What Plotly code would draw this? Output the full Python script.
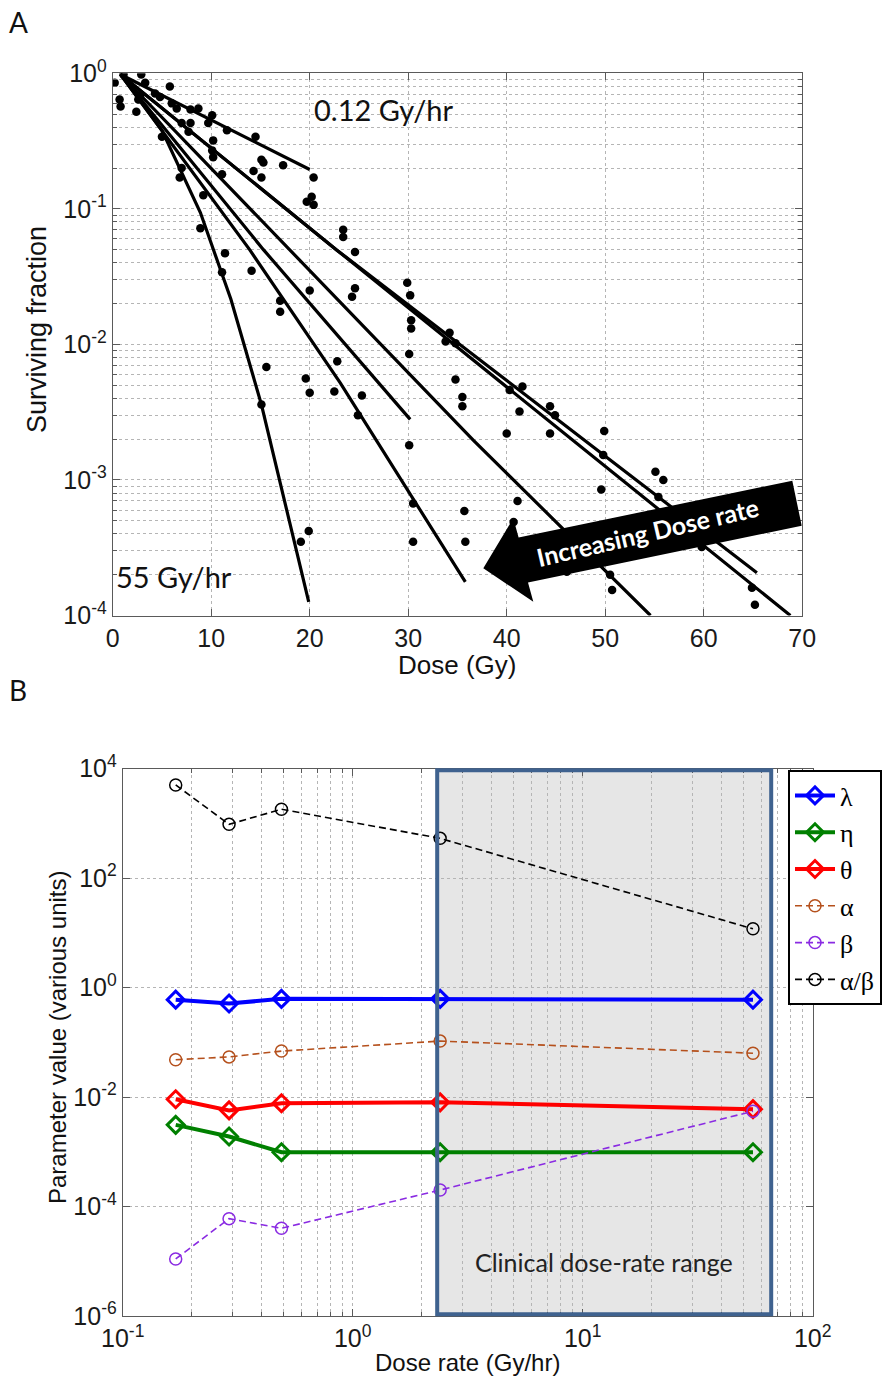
import plotly.graph_objects as go

# ---------------- Panel A data ----------------
# scattered survival measurements (dose in Gy, surviving fraction)
survival_points = [
    (1.1, 0.98), (0.2, 0.85), (2.9, 0.98), (3.3, 0.85), (5.8, 0.80),
    (0.7, 0.64), (0.8, 0.57), (2.4, 0.52), (2.8, 0.69), (2.6, 0.64),
    (4.3, 0.71), (4.8, 0.67), (6.5, 0.55), (6.0, 0.60), (5.0, 0.34),
    (7.9, 0.54), (8.7, 0.55), (9.7, 0.43), (10.1, 0.49), (7.0, 0.43),
    (7.9, 0.43), (7.7, 0.37), (11.6, 0.38), (14.5, 0.34), (10.2, 0.32),
    (10.1, 0.27), (10.2, 0.24), (7.0, 0.20), (6.8, 0.17), (11.1, 0.18),
    (14.3, 0.19), (15.1, 0.23), (15.3, 0.22), (15.1, 0.17), (17.3, 0.21),
    (20.4, 0.17), (9.2, 0.126), (20.2, 0.123), (19.7, 0.113), (20.4, 0.107),
    (8.9, 0.072), (11.4, 0.047), (23.4, 0.070), (23.4, 0.062), (11.1, 0.034),
    (14.1, 0.035), (20.0, 0.025), (17.0, 0.021), (17.0, 0.0174), (15.6, 0.0068),
    (22.8, 0.0075), (19.6, 0.0056), (20.0, 0.0044), (22.5, 0.0045), (15.1, 0.0036),
    (19.9, 4.2e-4), (19.1, 3.5e-4), (24.6, 0.048), (24.6, 0.026), (24.3, 0.0225),
    (29.9, 0.0285), (30.2, 0.023), (30.3, 0.0151), (30.3, 0.0131), (30.1, 0.0085),
    (34.2, 0.0122), (33.8, 0.0105), (34.8, 0.0102), (25.3, 0.0042), (24.9, 0.0030),
    (34.8, 0.0055), (35.5, 0.0041), (35.5, 0.0035), (30.1, 0.0018), (40.3, 0.0046),
    (41.6, 0.0049), (41.3, 0.0032), (40.0, 0.0022), (44.4, 0.0035), (44.9, 0.0030),
    (44.4, 0.0022), (49.9, 0.0023), (30.5, 6.7e-4), (30.5, 3.5e-4), (35.7, 5.9e-4),
    (35.8, 3.5e-4), (41.1, 7.0e-4), (40.7, 4.9e-4), (49.6, 8.5e-4), (50.7, 1.54e-4),
    (50.5, 2.0e-4), (49.8, 1.53e-3), (55.1, 1.15e-3), (55.9, 1.0e-3), (55.4, 7.5e-4),
    (59.8, 3.2e-4), (64.9, 1.6e-4), (65.2, 1.2e-4), (46.1, 2.1e-4),
]
point_dose = [p[0] for p in survival_points]
point_sf = [p[1] for p in survival_points]

# fitted survival curves, one per dose rate
fit_dose = [
    [0.8, 20.0],
    [0.8, 22.7, 65.4],
    [0.8, 22.7, 68.8],
    [0.8, 18.0, 36.6, 54.6],
    [0.8, 15.3, 30.2],
    [0.8, 13.9, 23.1, 35.8],
    [0.8, 5.0, 8.9, 12.0, 15.1, 19.9],
]
fit_sf = [
    [0.98, 0.195],
    [0.98, 0.05, 2.07e-4],
    [0.98, 0.05, 1.0e-4],
    [0.98, 0.05, 1.97e-3, 1.0e-4],
    [0.98, 0.05, 2.8e-3],
    [0.98, 0.05, 5.2e-3, 1.77e-4],
    [0.98, 0.38, 0.094, 0.0215, 3.6e-3, 1.26e-4],
]
dose_ticks = [0, 10, 20, 30, 40, 50, 60, 70]
sf_ticks = [1e-4, 1e-3, 1e-2, 1e-1, 1]
sf_ticktext = ["10<sup>-4</sup>", "10<sup>-3</sup>", "10<sup>-2</sup>", "10<sup>-1</sup>", "10<sup>0</sup>"]

# ---------------- Panel B data ----------------
dose_rate = [0.17, 0.29, 0.49, 2.4, 55]
lam = [0.60, 0.51, 0.62, 0.62, 0.60]
eta = [0.0031, 0.0019, 0.00098, 0.00098, 0.00098]
theta = [0.0091, 0.0057, 0.0077, 0.0080, 0.0060]
alpha = [0.048, 0.054, 0.069, 0.105, 0.063]
beta = [1.1e-5, 6.0e-5, 4.0e-5, 2.0e-4, 5.5e-3]
alpha_beta = [5000, 955, 1800, 530, 11.8]
clinical_range = [2.33, 66]
rate_ticks = [0.1, 1, 10, 100]
rate_ticktext = ["10<sup>-1</sup>", "10<sup>0</sup>", "10<sup>1</sup>", "10<sup>2</sup>"]
param_ticks = [1e-6, 1e-4, 1e-2, 1, 1e2, 1e4]
param_ticktext = ["10<sup>-6</sup>", "10<sup>-4</sup>", "10<sup>-2</sup>", "10<sup>0</sup>",
                  "10<sup>2</sup>", "10<sup>4</sup>"]

# ---------------- layout helpers ----------------
W, H = 892, 1389
def px(x):
    return x / W
def py(y):
    return 1 - y / H

AXFONT = "Liberation Sans, Arial, sans-serif"
CAL = "Lato, Open Sans, sans-serif"
GRID = "#b5b5b5"
LINE = "#5a5a5a"

fig = go.Figure()

for d, s in zip(fit_dose, fit_sf):
    fig.add_trace(go.Scatter(x=d, y=s, mode="lines", line=dict(color="black", width=3.2),
                             showlegend=False, hoverinfo="skip", xaxis="x", yaxis="y"))
fig.add_trace(go.Scatter(x=point_dose, y=point_sf, mode="markers",
                         marker=dict(color="black", size=8.5, line=dict(width=0)),
                         showlegend=False, xaxis="x", yaxis="y"))

solid = [("λ", lam, "#0000ff"), ("η", eta, "#008000"), ("θ", theta, "#ff0000")]
dashed = [("α", alpha, "#b5501c"), ("β", beta, "#8a2be2"), ("α/β", alpha_beta, "#000000")]
for name, vals, col in solid:
    fig.add_trace(go.Scatter(x=dose_rate, y=vals, name=name, mode="lines+markers",
                             line=dict(color=col, width=4),
                             marker=dict(symbol="diamond-open", size=13, color=col, line=dict(width=3, color=col)),
                             xaxis="x2", yaxis="y2"))
for name, vals, col in dashed:
    fig.add_trace(go.Scatter(x=dose_rate, y=vals, name=name, mode="lines+markers",
                             line=dict(color=col, width=1.6, dash="7px,4px"),
                             marker=dict(symbol="circle-open", size=12, color=col, line=dict(width=1.5, color=col)),
                             xaxis="x2", yaxis="y2"))

common = dict(showline=True, linecolor=LINE, linewidth=1, mirror="allticks", ticks="inside",
              ticklen=7, tickcolor=LINE, showgrid=True, gridcolor=GRID, griddash="dot", gridwidth=1,
              zeroline=False, tickfont=dict(family=AXFONT, size=25, color="#1a1a1a"))

minor_a = [k * 10 ** e for e in range(-4, 0) for k in range(2, 10)]
minor_b = [k * 10 ** e for e in range(-1, 2) for k in range(2, 10)]

fig.update_layout(
    width=W, height=H, margin=dict(l=0, r=0, t=0, b=0, autoexpand=False),
    paper_bgcolor="white", plot_bgcolor="white",
    xaxis=dict(domain=[px(112.7), px(802.2)], range=[0, 70], tickmode="array", tickvals=dose_ticks,
               anchor="y", **common),
    yaxis=dict(domain=[py(615.5), py(73.3)], type="log", range=[-4, 0], tickmode="array",
               tickvals=sf_ticks, ticktext=sf_ticktext, anchor="x",
               minor=dict(tickmode="array", tickvals=minor_a, ticks="inside", ticklen=4, tickcolor=LINE,
                          showgrid=True, gridcolor=GRID, griddash="dot", gridwidth=1),
               **common),
    xaxis2=dict(domain=[px(122.7), px(812.7)], type="log", range=[-1, 2], tickmode="array",
                tickvals=rate_ticks, ticktext=rate_ticktext, anchor="y2",
                minor=dict(tickmode="array", tickvals=minor_b, ticks="inside", ticklen=4, tickcolor=LINE,
                           showgrid=True, gridcolor=GRID, griddash="dot", gridwidth=1),
                **common),
    yaxis2=dict(domain=[py(1316), py(768.5)], type="log", range=[-6, 4], tickmode="array",
                tickvals=param_ticks, ticktext=param_ticktext, anchor="x2", **common),
    showlegend=True,
    legend=dict(x=px(788), y=py(770), xanchor="left", yanchor="top", bgcolor="white",
                bordercolor="black", borderwidth=2,
                font=dict(family="Liberation Serif, Times New Roman, serif", size=26, color="black"),
                tracegroupgap=0, itemwidth=40),
)

# clinical dose-rate box
fig.add_shape(type="rect", xref="x2", yref="y2 domain", x0=clinical_range[0], x1=clinical_range[1],
              y0=0, y1=1, fillcolor="#e6e6e6", line=dict(width=0), layer="below")
fig.add_shape(type="rect", xref="x2", yref="y2 domain", x0=clinical_range[0], x1=clinical_range[1],
              y0=0.003, y1=0.997, fillcolor="rgba(0,0,0,0)", line=dict(color="#3f628f", width=4), layer="above")

# big arrow (pixel geometry of the decoration)
arrow_px = [(483.3, 568.3), (513.3, 518.3), (518.6, 537.5), (792.3, 480.7),
            (801.7, 525.7), (528.0, 582.5), (533.3, 601.7)]
path = "M " + " L ".join(f"{px(x):.5f},{py(y):.5f}" for x, y in arrow_px) + " Z"
fig.add_shape(type="path", xref="paper", yref="paper", path=path, fillcolor="black",
              line=dict(color="black", width=0), layer="above")

def text(t, x, y, size, family=CAL, color="#111111", angle=0, xanchor="center", bold=False):
    fig.add_annotation(text=(f"<b>{t}</b>" if bold else t), x=px(x), y=py(y), xref="paper", yref="paper",
                       showarrow=False, xanchor=xanchor, yanchor="middle", textangle=angle,
                       font=dict(family=family, size=size, color=color))

text("A", 18, 22, 28)
text("B", 18, 690, 28)
text("0.12 Gy/hr", 311.7, 110, 29, xanchor="left")
text("55 Gy/hr", 114, 576.7, 29, xanchor="left")
text("Increasing Dose rate", 647, 532, 25, color="white", angle=-13, bold=True)
text("Clinical dose-rate range", 604, 1262, 25, color="#222222")
text("Surviving fraction", 37, 330, 27, family=AXFONT, angle=-90)
text("Dose (Gy)", 457, 665, 26, family=AXFONT)
text("Parameter value (various units)", 57, 1038, 24, family=AXFONT, angle=-90)
text("Dose rate (Gy/hr)", 468, 1362, 24, family=AXFONT)

fig.write_html("out.html")
